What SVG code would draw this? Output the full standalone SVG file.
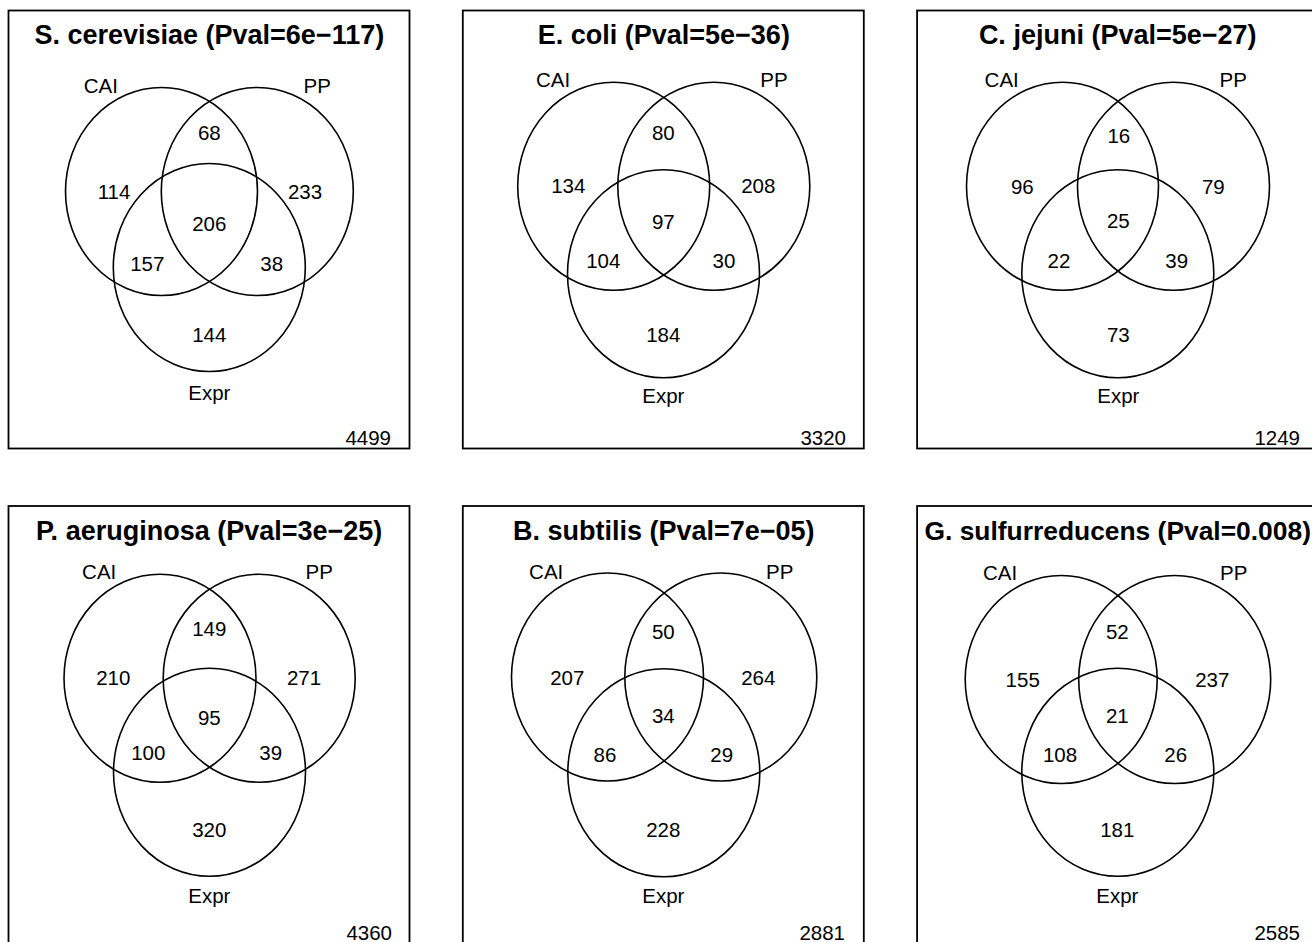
<svg xmlns="http://www.w3.org/2000/svg" width="1312" height="942" viewBox="0 0 1312 942">
<style>
.box{fill:none;stroke:#000;stroke-width:1.8}
.set{fill:none;stroke:#000;stroke-width:1.6}
text{font-family:"Liberation Sans",Arial,Helvetica,sans-serif;fill:#000}
.title{font-size:27px;font-weight:bold;text-anchor:middle}
.lab{font-size:20.5px;text-anchor:middle}
.tot{font-size:20.5px;text-anchor:end}
</style>
<rect width="1312" height="942" fill="#fff"/>
<g id="connectors"/>

<g id="panel-scerevisiae">
<rect class="box" x="8.5" y="10.5" width="401" height="438"/>
<text class="title" x="209.3" y="44.3">S. cerevisiae (Pval=6e−117)</text>
<g id="p1-cai"><ellipse class="set" cx="161.5" cy="191.5" rx="96" ry="104"/><text class="lab" x="100.8" y="92.7">CAI</text></g>
<g id="p1-pp"><ellipse class="set" cx="257.3" cy="191.5" rx="96" ry="104"/><text class="lab" x="317.3" y="92.7">PP</text></g>
<g id="p1-expr"><ellipse class="set" cx="209.3" cy="267.5" rx="96" ry="104"/><text class="lab" x="209.3" y="400">Expr</text></g>
<text class="lab" x="209.3" y="140">68</text>
<text class="lab" x="114" y="199.3">114</text>
<text class="lab" x="305" y="199.3">233</text>
<text class="lab" x="209.3" y="230.7">206</text>
<text class="lab" x="147.3" y="270.7">157</text>
<text class="lab" x="271.7" y="270.7">38</text>
<text class="lab" x="209.3" y="341.7">144</text>
<text class="tot" x="391" y="445">4499</text>
</g>

<g id="panel-ecoli">
<rect class="box" x="462.8" y="10.5" width="401" height="438"/>
<text class="title" x="663.8" y="44.3">E. coli (Pval=5e−36)</text>
<g id="p2-cai"><ellipse class="set" cx="613.7" cy="186.3" rx="96" ry="104"/><text class="lab" x="553" y="87.3">CAI</text></g>
<g id="p2-pp"><ellipse class="set" cx="713.8" cy="186.3" rx="96" ry="104"/><text class="lab" x="774" y="87.3">PP</text></g>
<g id="p2-expr"><ellipse class="set" cx="663.5" cy="273.8" rx="96" ry="104"/><text class="lab" x="663.3" y="403">Expr</text></g>
<text class="lab" x="663.3" y="140">80</text>
<text class="lab" x="568.3" y="193.3">134</text>
<text class="lab" x="758.3" y="193.3">208</text>
<text class="lab" x="663.3" y="229.3">97</text>
<text class="lab" x="603.3" y="267.7">104</text>
<text class="lab" x="724" y="267.7">30</text>
<text class="lab" x="663.3" y="341.7">184</text>
<text class="tot" x="846" y="445">3320</text>
</g>

<g id="panel-cjejuni">
<rect class="box" x="917.1" y="10.5" width="401" height="438"/>
<text class="title" x="1117.7" y="44.3">C. jejuni (Pval=5e−27)</text>
<g id="p3-cai"><ellipse class="set" cx="1062.5" cy="186.3" rx="96" ry="104"/><text class="lab" x="1001.7" y="87.3">CAI</text></g>
<g id="p3-pp"><ellipse class="set" cx="1173.5" cy="186.3" rx="96" ry="104"/><text class="lab" x="1233.3" y="87.3">PP</text></g>
<g id="p3-expr"><ellipse class="set" cx="1117.8" cy="273.8" rx="96" ry="104"/><text class="lab" x="1118.3" y="403">Expr</text></g>
<text class="lab" x="1118.8" y="143">16</text>
<text class="lab" x="1022.3" y="193.8">96</text>
<text class="lab" x="1213.3" y="193.8">79</text>
<text class="lab" x="1118.3" y="227.7">25</text>
<text class="lab" x="1059" y="267.5">22</text>
<text class="lab" x="1176.7" y="267.5">39</text>
<text class="lab" x="1118.3" y="341.7">73</text>
<text class="tot" x="1300" y="445">1249</text>
</g>

<g id="panel-paeruginosa">
<rect class="box" x="8.5" y="506" width="401" height="438"/>
<text class="title" x="209.2" y="540">P. aeruginosa (Pval=3e−25)</text>
<g id="p4-cai"><ellipse class="set" cx="160" cy="678.2" rx="96" ry="104"/><text class="lab" x="99.2" y="579">CAI</text></g>
<g id="p4-pp"><ellipse class="set" cx="259.2" cy="678.2" rx="96" ry="104"/><text class="lab" x="319.3" y="579">PP</text></g>
<g id="p4-expr"><ellipse class="set" cx="209.5" cy="772.3" rx="96" ry="104"/><text class="lab" x="209.3" y="903">Expr</text></g>
<text class="lab" x="209.3" y="636">149</text>
<text class="lab" x="113.3" y="685">210</text>
<text class="lab" x="304" y="685">271</text>
<text class="lab" x="209.3" y="725">95</text>
<text class="lab" x="148.3" y="760">100</text>
<text class="lab" x="270.7" y="760">39</text>
<text class="lab" x="209.3" y="836.7">320</text>
<text class="tot" x="392" y="940">4360</text>
</g>

<g id="panel-bsubtilis">
<rect class="box" x="462.8" y="506" width="401" height="438"/>
<text class="title" x="663.8" y="540">B. subtilis (Pval=7e−05)</text>
<g id="p5-cai"><ellipse class="set" cx="607.5" cy="677" rx="96" ry="104"/><text class="lab" x="546.2" y="579">CAI</text></g>
<g id="p5-pp"><ellipse class="set" cx="720.8" cy="677" rx="96" ry="104"/><text class="lab" x="779.7" y="579">PP</text></g>
<g id="p5-expr"><ellipse class="set" cx="663.8" cy="772.8" rx="96" ry="104"/><text class="lab" x="663.3" y="903">Expr</text></g>
<text class="lab" x="663.3" y="639.3">50</text>
<text class="lab" x="567.3" y="685">207</text>
<text class="lab" x="758.3" y="685">264</text>
<text class="lab" x="663.3" y="722.7">34</text>
<text class="lab" x="605" y="761.7">86</text>
<text class="lab" x="721.7" y="761.7">29</text>
<text class="lab" x="663.3" y="837.3">228</text>
<text class="tot" x="845" y="940">2881</text>
</g>

<g id="panel-gsulfurreducens">
<rect class="box" x="917.1" y="506" width="401" height="438"/>
<text class="title" x="1117.7" y="540" style="font-size:26.4px">G. sulfurreducens (Pval=0.008)</text>
<g id="p6-cai"><ellipse class="set" cx="1061.2" cy="679.5" rx="96" ry="104"/><text class="lab" x="1000" y="580">CAI</text></g>
<g id="p6-pp"><ellipse class="set" cx="1174.7" cy="679.5" rx="96" ry="104"/><text class="lab" x="1233.7" y="580">PP</text></g>
<g id="p6-expr"><ellipse class="set" cx="1117.8" cy="772.2" rx="96" ry="104"/><text class="lab" x="1117.3" y="903">Expr</text></g>
<text class="lab" x="1117.3" y="639.3">52</text>
<text class="lab" x="1022.7" y="686.7">155</text>
<text class="lab" x="1212.3" y="686.7">237</text>
<text class="lab" x="1117.3" y="722.7">21</text>
<text class="lab" x="1060" y="761.7">108</text>
<text class="lab" x="1175.7" y="761.7">26</text>
<text class="lab" x="1117.3" y="836.7">181</text>
<text class="tot" x="1300" y="940">2585</text>
</g>
</svg>
